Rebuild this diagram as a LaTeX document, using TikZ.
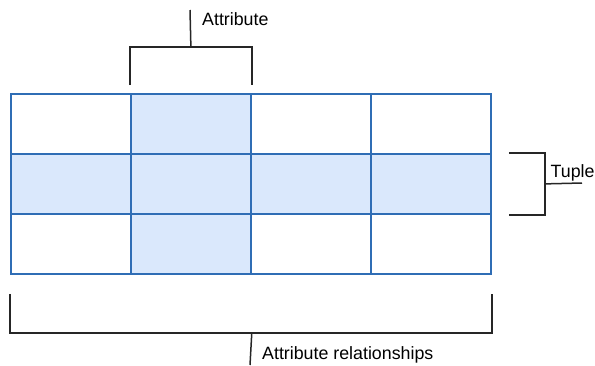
\documentclass[tikz,border=0pt]{standalone}
\usepackage{fontspec}
\setmainfont{Liberation Sans}
\definecolor{cellblue}{HTML}{DAE8FC}
\definecolor{lineblue}{HTML}{2F6DB5}
\begin{document}
\begin{tikzpicture}[x=1pt, y=-1pt,
  cell/.style={draw=lineblue, line width=1.8pt, minimum width=120pt,
    minimum height=60pt, inner sep=0pt, anchor=north west},
  brace/.style={line width=1.5pt, black!85},
  lbl/.style={inner sep=0pt, anchor=base west,
    font=\fontsize{17.8}{20}\selectfont}]
  \useasboundingbox (0,0) rectangle (595,365);
  % the table
  \foreach \r/\c/\f in {1/1/white, 1/2/cellblue, 1/3/white, 1/4/white,
                        2/1/cellblue, 2/2/cellblue, 2/3/cellblue, 2/4/cellblue,
                        3/1/white, 3/2/cellblue, 3/3/white, 3/4/white}
    \node[cell, fill=\f] (c\r\c) at ({10+120*(\c-1)},{93+60*(\r-1)}) {};
  % attribute
  \node[lbl] (attr) at (202,25) {Attribute};
  \coordinate (attrtop) at (190,10);
  \draw[brace] ([yshift=8pt]c12.north west) -- ++(0,-38) -| ([yshift=8pt]c12.north east);
  \draw[brace] ([yshift=46pt]c12.north) -- (attrtop);
  % tuple
  \node[lbl] (tuple) at (550.5,177.5) {Tuple};
  \coordinate (tupleend) at (582,183);
  \draw[brace] ([xshift=17pt]c24.north east) -- ++(36,0) |- ([xshift=17pt]c24.south east);
  \draw[brace] ([xshift=53pt]c24.east) -- (tupleend);
  % relationships
  \node[lbl] (rel) at (262,359) {Attribute relationships};
  \coordinate (relend) at (250,365);
  \draw[brace] ([yshift=-19pt]c31.south west) -- ++(0,39) -| ([yshift=-19pt]c34.south east);
  \draw[brace] ([yshift=-58pt]c32.south east) -- (relend);
\end{tikzpicture}
\end{document}
